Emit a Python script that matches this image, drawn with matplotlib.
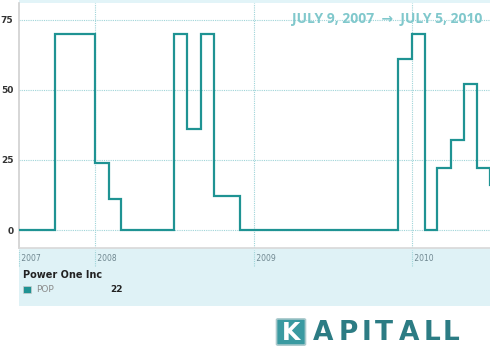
import matplotlib
matplotlib.use("Agg")
import matplotlib.pyplot as plt
import matplotlib.dates as mdates
from matplotlib.patches import Rectangle, FancyBboxPatch
import datetime as dt

# ---- data (monthly step values) ----
months = ["2007-07", "2007-08", "2007-09", "2007-10", "2007-11", "2007-12",
          "2008-01", "2008-02", "2008-03", "2008-04", "2008-05", "2008-06",
          "2008-07", "2008-08", "2008-09", "2008-10", "2008-11", "2008-12",
          "2009-01", "2009-02", "2009-03", "2009-04", "2009-05", "2009-06",
          "2009-07", "2009-08", "2009-09", "2009-10", "2009-11", "2009-12",
          "2010-01", "2010-02", "2010-03", "2010-04", "2010-05", "2010-06",
          "2010-07"]
values = [0, 0, 0, 70, 70, 70,
          24, 11, 0, 0, 0, 0,
          70, 36, 70, 12, 12, 0,
          0, 0, 0, 0, 0, 0,
          0, 0, 0, 0, 0, 61,
          70, 0, 22, 32, 52, 22,
          16]
y_ticks = [0, 25, 50, 75]
year_labels = ["2007", "2008", "2009", "2010"]
start_date = "2007-07-09"
end_date = "2010-07-05"
company = "Power One Inc"
ticker = "POP"
last_value = 22
range_text = "JULY 9, 2007  \u2192  JULY 5, 2010"

W, H = 490, 359
fig = plt.figure(figsize=(W / 100, H / 100), dpi=100)
fig.patch.set_facecolor("white")

def fx(x):
    return x / W

def fy(y):
    return 1 - y / H

LINE = "#1f9393"
GRID = "#9fd4d8"

# panels (drawn beneath the axes)
fig.patches.append(Rectangle((fx(19), fy(306)), fx(490 - 19), (306 - 248) / H,
                             transform=fig.transFigure, facecolor="#dff2f6",
                             edgecolor="none", zorder=-5))
fig.patches.append(Rectangle((fx(19), fy(3)), fx(490 - 19), 2.5 / H,
                             transform=fig.transFigure, facecolor="#e2f4f8",
                             edgecolor="none", zorder=-5))

# plot axes
ax_l, ax_r, ax_t, ax_b = 19, 492, 3, 248
ax = fig.add_axes([fx(ax_l), fy(ax_b), fx(ax_r - ax_l), (ax_b - ax_t) / H])
ax.patch.set_alpha(0)
dates = [dt.datetime.strptime(m + "-01", "%Y-%m-%d") for m in months]
x0 = dt.datetime.strptime(start_date, "%Y-%m-%d")
x1 = dt.datetime.strptime(end_date, "%Y-%m-%d")
ax.plot(dates, values, drawstyle="steps-post", color=LINE, lw=1.6, zorder=3,
        solid_joinstyle="miter")
ax.set_xlim(x0, x1)
ax.set_ylim(-6.4, 81)

for s in ["top", "right"]:
    ax.spines[s].set_visible(False)
ax.spines["left"].set_color("#d0d0d0")
ax.spines["left"].set_linewidth(1.2)
ax.spines["bottom"].set_color("#d8d8d8")
ax.spines["bottom"].set_linewidth(1.2)

ax.set_yticks(y_ticks)
ax.set_yticklabels([str(v) for v in y_ticks], fontsize=6.5, fontweight="bold",
                   color="#333333")
ax.tick_params(axis="y", length=0, pad=4)
ax.set_xticks([])
for v in y_ticks:
    ax.axhline(v, color=GRID, lw=0.8, ls=(0, (1, 1)), zorder=1)

# year grid lines and labels
tick_dates = [x0] + [dt.datetime(int(y), 1, 1) for y in year_labels[1:]]
for d, lab in zip(tick_dates, year_labels):
    if d != x0:
        ax.axvline(d, color=GRID, lw=0.8, ls=(0, (1, 1)), zorder=1)
    ax.axvline(d, ymin=-0.075, ymax=-0.01, color=GRID, lw=0.8,
               ls=(0, (1, 1)), clip_on=False)
    xd = mdates.date2num(d)
    ax.text(xd, -0.043, " " + lab, transform=ax.get_xaxis_transform(),
            fontsize=5.5, color="#6f8790", ha="left", va="center",
            clip_on=False)

# legend texts
fig.text(fx(23), fy(275), company, fontsize=7, fontweight="bold",
         color="#222222", ha="left", va="center")
fig.patches.append(Rectangle((fx(23), fy(293)), fx(8), 7 / H,
                             transform=fig.transFigure, facecolor=LINE,
                             edgecolor="#cccccc", lw=0.5))
fig.text(fx(36), fy(289.5), ticker, fontsize=6.5, color="#8a8a8a",
         ha="left", va="center")
fig.text(fx(110), fy(289.5), str(last_value), fontsize=6.5, fontweight="bold",
         color="#222222", ha="left", va="center")

# range annotation
fig.text(fx(482), fy(19), range_text, fontsize=10, fontweight="bold",
         color="#80c8cc", ha="right", va="center",
         family=["Open Sans", "DejaVu Sans"])

# logo
fig.patches.append(FancyBboxPatch((fx(278), fy(344)), fx(26), 24 / H,
                                  boxstyle="round,pad=0.003",
                                  transform=fig.transFigure,
                                  facecolor="#3a9aa1", edgecolor="#a9c9cc",
                                  lw=1.2))
fig.text(fx(291), fy(333), "K", fontsize=17, fontweight="bold", color="white",
         ha="center", va="center", family="DejaVu Sans")
logo_letters = ["A", "P", "I", "T", "A", "L", "L"]
logo_x = [323, 348, 366, 384, 409, 432, 451]
for ch, lx in zip(logo_letters, logo_x):
    fig.text(fx(lx), fy(333), ch, fontsize=19, fontweight="bold",
             color="#2c7c84", ha="center", va="center", family="DejaVu Sans")

fig.savefig("out.png", dpi=100)
